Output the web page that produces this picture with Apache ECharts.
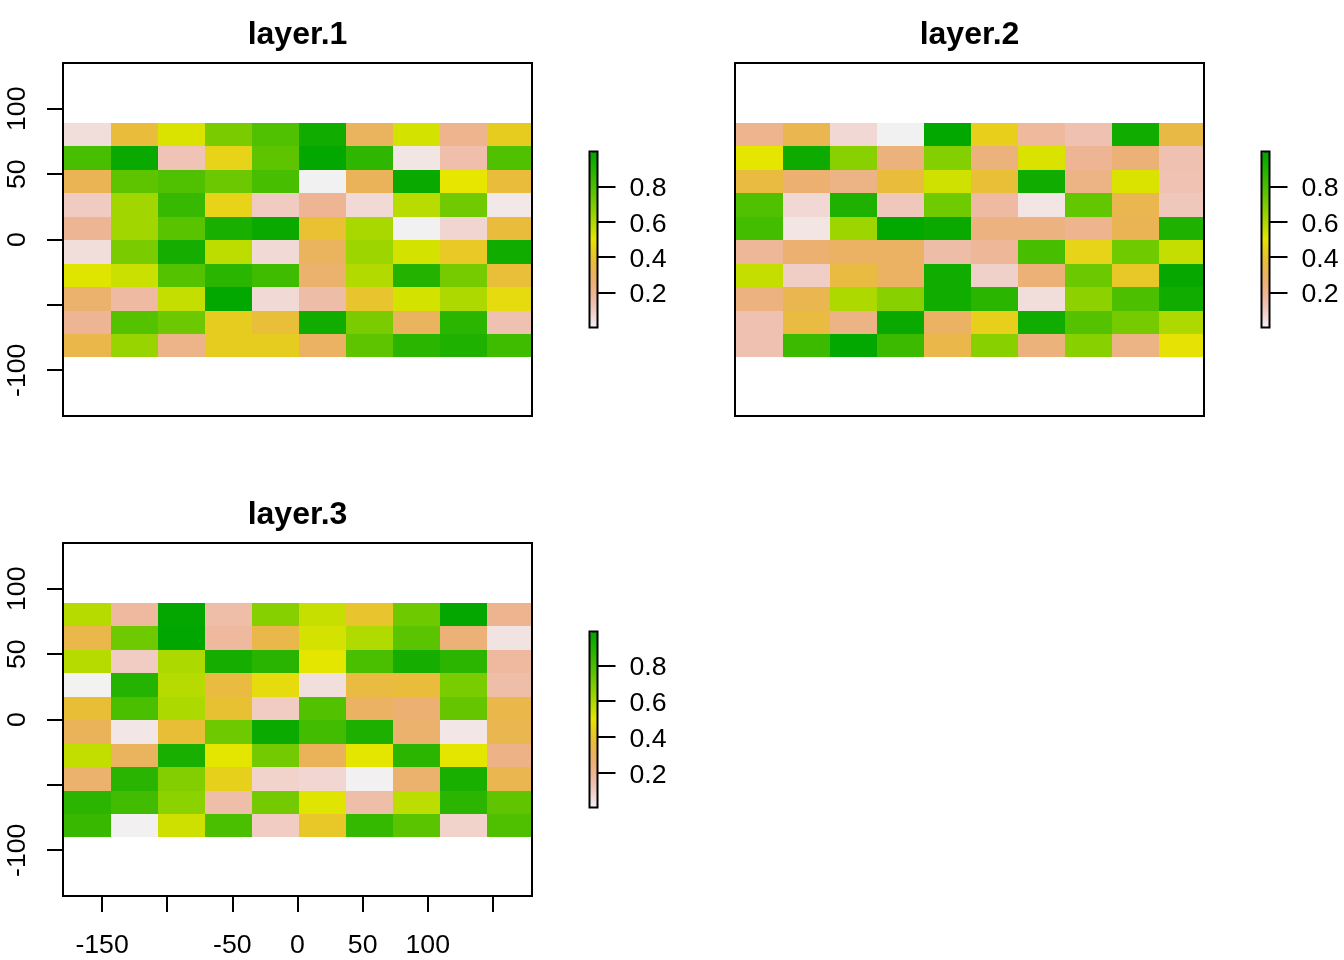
<!DOCTYPE html>
<html><head><meta charset="utf-8">
<style>html,body{margin:0;padding:0;background:#fff}#c{width:1344px;height:960px}</style>
<script src="https://cdn.jsdelivr.net/npm/echarts@6/dist/echarts.min.js"></script>
</head><body><div id="c"></div>
<script>
const lons = [-162,-126,-90,-54,-18,18,54,90,126,162];
const lats = [81,63,45,27,9,-9,-27,-45,-63,-81];
const layer1 = [
 [.05,.37,.52,.70,.79,.95,.30,.53,.20,.43],
 [.81,.97,.12,.45,.76,.99,.87,.03,.14,.79],
 [.32,.76,.79,.73,.81,.004,.31,.97,.50,.37],
 [.10,.62,.85,.45,.10,.19,.06,.58,.72,.025],
 [.19,.62,.77,.93,.97,.39,.61,.005,.07,.37],
 [.05,.70,.94,.57,.06,.30,.63,.53,.42,.95],
 [.51,.55,.78,.88,.83,.27,.59,.90,.71,.38],
 [.27,.16,.56,.99,.06,.15,.40,.53,.60,.47],
 [.19,.78,.73,.43,.38,.95,.70,.30,.88,.13],
 [.34,.64,.21,.43,.43,.29,.76,.88,.91,.83]
];
const layer2 = [
 [.20,.33,.06,.003,.99,.44,.17,.13,.95,.35],
 [.50,.96,.67,.24,.68,.24,.52,.19,.25,.13],
 [.36,.26,.22,.37,.54,.38,.95,.22,.52,.125],
 [.79,.06,.91,.11,.72,.16,.03,.75,.33,.11],
 [.82,.03,.63,.99,.97,.23,.23,.20,.32,.91],
 [.18,.26,.29,.29,.15,.18,.81,.45,.72,.56],
 [.56,.09,.36,.29,.95,.08,.25,.73,.41,.98],
 [.23,.33,.60,.67,.95,.88,.05,.66,.80,.95],
 [.13,.36,.22,.97,.29,.44,.95,.78,.71,.60],
 [.13,.84,.99,.84,.34,.67,.24,.67,.22,.49]
];
const layer3 = [
 [.58,.17,.98,.15,.67,.55,.40,.72,.98,.20],
 [.34,.72,.985,.17,.34,.53,.59,.76,.25,.04],
 [.58,.10,.60,.93,.88,.50,.80,.93,.87,.17],
 [.007,.89,.58,.36,.47,.05,.36,.37,.70,.15],
 [.38,.80,.60,.39,.10,.78,.29,.26,.74,.34],
 [.31,.03,.38,.72,.96,.82,.91,.27,.03,.33],
 [.56,.30,.92,.50,.71,.31,.50,.87,.50,.22],
 [.27,.88,.68,.44,.08,.07,.01,.27,.92,.33],
 [.87,.82,.66,.15,.71,.51,.15,.57,.87,.75],
 [.84,.01,.54,.80,.10,.41,.85,.76,.08,.79]
];
const layers = [layer1, layer2, layer3];
const titles = ['layer.1','layer.2','layer.3'];
const ranges = [[.002,.997],[.001,.997],[.006,.989]];
const palette = ['#F2F2F2','#F1D7D3','#EFC2B3','#EDB594','#ECB176','#EAB358','#E9BD3A','#E7CE1D','#E6E600','#C2DE00','#A0D600','#81CE00','#63C600','#47BE00','#2DB600','#16AE00','#00A600'];
const xTicks = [-150,-100,-50,0,50,100,150];
const xLabels = [-150,-50,0,50,100];
const yTicks = [-100,-50,0,50,100];
const yLabels = [-100,0,50,100];
const barTicks = [.2,.4,.6,.8];
const panelLeft = [63,735,63], panelTop = [63,63,543];
const panelW = 469, panelH = 353;
const FONT = '"Liberation Sans", Arial, sans-serif';

const grids=[],xAxes=[],yAxes=[],series=[],visualMaps=[],title=[];
layers.forEach((layer,i)=>{
  const L=panelLeft[i],T=panelTop[i];
  grids.push({show:true,left:L,top:T,width:panelW,height:panelH,borderColor:'#000',borderWidth:2,backgroundColor:'transparent',z:5});
  const showX=i===2, showY=i!==1;
  xAxes.push({type:'value',gridIndex:2*i,min:-180,max:180,show:showX,position:'bottom',splitLine:{show:false},
    axisLine:{show:false,onZero:false},
    axisTick:{show:true,length:16,customValues:xTicks,lineStyle:{color:'#000',width:2}},
    axisLabel:{show:true,customValues:xLabels,margin:36,color:'#000',fontFamily:FONT,fontSize:26.67,formatter:v=>String(v)}});
  yAxes.push({type:'value',gridIndex:2*i,min:-135,max:135,show:showY,position:'left',splitLine:{show:false},
    axisLine:{show:false,onZero:false},
    axisTick:{show:true,length:16,customValues:yTicks,lineStyle:{color:'#000',width:2}},
    axisLabel:{show:true,customValues:yLabels,rotate:90,margin:32,color:'#000',fontFamily:FONT,fontSize:26.67,formatter:v=>String(v)}});
  const data=[];
  layer.forEach((row,r)=>row.forEach((v,c)=>data.push([lons[c],lats[r],v])));
  const bottomEdge=T+294;
  series.push({type:'custom',xAxisIndex:2*i,yAxisIndex:2*i,silent:true,clip:true,animation:false,z:2,
    encode:{x:0,y:1},data,
    renderItem:(params,api)=>{
      const lon=api.value(0),lat=api.value(1);
      const a=api.coord([lon-18,lat+9]),b=api.coord([lon+18,lat-9]);
      const x0=lon-18<=-180?L:Math.round(a[0]+1.5),y0=Math.round(a[1]+.8),x1=Math.round(b[0]+1.5),y1=Math.min(Math.round(b[1]+.8),bottomEdge);
      return {type:'rect',shape:{x:x0,y:y0,width:x1-x0,height:y1-y0},style:{fill:api.visual('color')}};
    }});
  // colour key
  const bx=L+526, by=T+88;
  grids.push({show:true,left:bx+.5,top:by+.5,width:8,height:176,borderColor:'#000',borderWidth:2,backgroundColor:'transparent',z:10});
  xAxes.push({type:'value',gridIndex:2*i+1,min:0,max:1,show:false});
  yAxes.push({type:'value',gridIndex:2*i+1,min:ranges[i][0],max:ranges[i][1],position:'right',splitLine:{show:false},
    axisLine:{show:false,onZero:false},
    axisTick:{show:true,length:18,customValues:barTicks,lineStyle:{color:'#000',width:2}},
    axisLabel:{show:true,customValues:barTicks,margin:32,color:'#000',fontFamily:FONT,fontSize:26.67,verticalAlign:'top',lineHeight:5,formatter:v=>v.toFixed(1)}});
  visualMaps.push({type:'continuous',seriesIndex:i,dimension:2,min:ranges[i][0],max:ranges[i][1],calculable:false,
    left:bx+1,top:by+1,itemWidth:8,itemHeight:175,padding:0,text:null,showLabel:false,hoverLink:false,
    inRange:{color:palette}});
  title.push({text:titles[i],left:L+panelW/2,top:T-44,textAlign:'center',padding:0,
    textStyle:{fontFamily:FONT,fontSize:32,fontWeight:'bold',color:'#000'}});
});
const chart=echarts.init(document.getElementById('c'),null,{renderer:'canvas'});
chart.setOption({animation:false,backgroundColor:'#fff',title,grid:grids,xAxis:xAxes,yAxis:yAxes,visualMap:visualMaps,series});
</script></body></html>
